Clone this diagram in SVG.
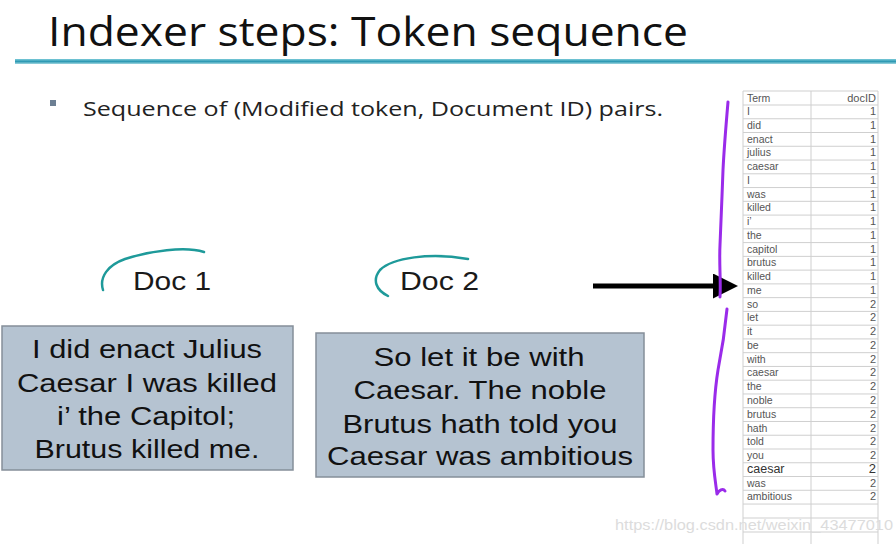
<svg xmlns="http://www.w3.org/2000/svg" width="896" height="544" viewBox="0 0 896 544">
<defs>
<style>
.title{font-family:"Open Sans","Liberation Sans",sans-serif;font-size:40px;fill:#111}
.bullet{font-family:"Open Sans","Liberation Sans",sans-serif;font-size:20px;fill:#222}
.doc{font-family:"Liberation Sans",Arial,sans-serif;font-size:26px;fill:#1a1a1a}
.box{fill:#b5c3d1;stroke:#858f99;stroke-width:1.5}
.bt{font-family:"Liberation Sans",Arial,sans-serif;font-size:26px;fill:#111;text-anchor:middle}
.tl{stroke:#cfcfcf;stroke-width:1;fill:none}
.tt{font-family:"Liberation Sans",Arial,sans-serif;font-size:10.5px;fill:#555}
.td{font-family:"Liberation Sans",Arial,sans-serif;font-size:11px;fill:#555;text-anchor:end}
.teal{fill:none;stroke:#1e9a9a;stroke-width:2.5;stroke-linecap:round}
.purple{fill:none;stroke:#9a2bea;stroke-width:3;stroke-linecap:round;stroke-linejoin:round}
</style>
<linearGradient id="rule" x1="0" y1="0" x2="0" y2="1">
<stop offset="0" stop-color="#7ccbd9"/>
<stop offset="0.5" stop-color="#2f9ab4"/>
<stop offset="1" stop-color="#9fd6e0"/>
</linearGradient>
<marker id="ah" markerWidth="5" markerHeight="5" refX="1" refY="2.5" orient="auto" markerUnits="strokeWidth">
<path d="M0,0 L5,2.5 L0,5 Z" fill="#000"/>
</marker>
</defs>
<rect width="896" height="544" fill="#fff"/>

<g id="title">
<text class="title" x="48" y="46" textLength="640" lengthAdjust="spacingAndGlyphs">Indexer steps: Token sequence</text>
<rect x="15" y="59" width="881" height="5" fill="url(#rule)"/>
</g>

<g id="bullet">
<rect x="50" y="100" width="6" height="6" fill="#6c7f93"/>
<text class="bullet" x="83" y="116" textLength="580" lengthAdjust="spacingAndGlyphs">Sequence of (Modified token, Document ID) pairs.</text>
</g>

<g id="doc1">
<path class="teal" d="M103,290 C99,277 108,265 125,259 C150,251 185,246 204,252"/>
<text class="doc" x="133" y="290" textLength="78" lengthAdjust="spacingAndGlyphs">Doc 1</text>
<rect class="box" x="2" y="326" width="291" height="144"/>
<text class="bt" x="147" y="358" textLength="230" lengthAdjust="spacingAndGlyphs">I did enact Julius</text>
<text class="bt" x="147" y="392" textLength="260" lengthAdjust="spacingAndGlyphs">Caesar I was killed</text>
<text class="bt" x="146" y="425" textLength="178" lengthAdjust="spacingAndGlyphs">i’ the Capitol;</text>
<text class="bt" x="147" y="458" textLength="225" lengthAdjust="spacingAndGlyphs">Brutus killed me.</text>
</g>

<g id="doc2">
<path class="teal" d="M388,296 C376,290 372,280 380,270 C392,258 430,252 468,259"/>
<text class="doc" x="400" y="290" textLength="79" lengthAdjust="spacingAndGlyphs">Doc 2</text>
<rect class="box" x="316" y="333" width="328" height="144"/>
<text class="bt" x="479" y="366" textLength="211" lengthAdjust="spacingAndGlyphs">So let it be with</text>
<text class="bt" x="480" y="399" textLength="253" lengthAdjust="spacingAndGlyphs">Caesar. The noble</text>
<text class="bt" x="480" y="433" textLength="275" lengthAdjust="spacingAndGlyphs">Brutus hath told you</text>
<text class="bt" x="480" y="465" textLength="306" lengthAdjust="spacingAndGlyphs">Caesar was ambitious</text>
</g>

<g id="connectors">
<line x1="593" y1="286" x2="718" y2="286" stroke="#000" stroke-width="5" marker-end="url(#ah)"/>
<path class="purple" d="M728,102 C726,125 724,150 723,170 C722,195 721,225 720,245 C719,265 721,280 720,297"/>
<path class="purple" d="M727,309 C725,330 722,350 718,370 C714,395 713,425 713,450 C713,470 716,485 717,494 C719,490 723,488 725,491"/>
</g>

<g id="table">
<rect x="743" y="91" width="135" height="453" fill="#fff"/>
<path class="tl" d="M743,91 V544 M811,91 V544 M878,91 V544 M743,91 H878"/>
<path class="tl" d="M743,105 H878 M743,118.76 H878 M743,132.52 H878 M743,146.28 H878 M743,160.04 H878 M743,173.8 H878 M743,187.56 H878 M743,201.32 H878 M743,215.08 H878 M743,228.84 H878 M743,242.6 H878 M743,256.36 H878 M743,270.12 H878 M743,283.88 H878 M743,297.64 H878 M743,311.4 H878 M743,325.16 H878 M743,338.92 H878 M743,352.68 H878 M743,366.44 H878 M743,380.2 H878 M743,393.96 H878 M743,407.72 H878 M743,421.48 H878 M743,435.24 H878 M743,449 H878 M743,462.76 H878 M743,476.52 H878 M743,490.28 H878 M743,504.04 H878 M743,518 H878 M743,532 H878"/>
<text class="tt" x="747" y="102">Term</text><text class="td" x="876" y="102">docID</text>
<text class="tt" x="747" y="115">I</text><text class="td" x="876" y="115">1</text>
<text class="tt" x="747" y="128.8">did</text><text class="td" x="876" y="128.8">1</text>
<text class="tt" x="747" y="142.5">enact</text><text class="td" x="876" y="142.5">1</text>
<text class="tt" x="747" y="156.3">julius</text><text class="td" x="876" y="156.3">1</text>
<text class="tt" x="747" y="170">caesar</text><text class="td" x="876" y="170">1</text>
<text class="tt" x="747" y="183.8">I</text><text class="td" x="876" y="183.8">1</text>
<text class="tt" x="747" y="197.6">was</text><text class="td" x="876" y="197.6">1</text>
<text class="tt" x="747" y="211.3">killed</text><text class="td" x="876" y="211.3">1</text>
<text class="tt" x="747" y="225.1">i’</text><text class="td" x="876" y="225.1">1</text>
<text class="tt" x="747" y="238.8">the</text><text class="td" x="876" y="238.8">1</text>
<text class="tt" x="747" y="252.6">capitol</text><text class="td" x="876" y="252.6">1</text>
<text class="tt" x="747" y="266.4">brutus</text><text class="td" x="876" y="266.4">1</text>
<text class="tt" x="747" y="280.1">killed</text><text class="td" x="876" y="280.1">1</text>
<text class="tt" x="747" y="293.9">me</text><text class="td" x="876" y="293.9">1</text>
<text class="tt" x="747" y="307.6">so</text><text class="td" x="876" y="307.6">2</text>
<text class="tt" x="747" y="321.4">let</text><text class="td" x="876" y="321.4">2</text>
<text class="tt" x="747" y="335.2">it</text><text class="td" x="876" y="335.2">2</text>
<text class="tt" x="747" y="348.9">be</text><text class="td" x="876" y="348.9">2</text>
<text class="tt" x="747" y="362.7">with</text><text class="td" x="876" y="362.7">2</text>
<text class="tt" x="747" y="376.4">caesar</text><text class="td" x="876" y="376.4">2</text>
<text class="tt" x="747" y="390.2">the</text><text class="td" x="876" y="390.2">2</text>
<text class="tt" x="747" y="404">noble</text><text class="td" x="876" y="404">2</text>
<text class="tt" x="747" y="417.7">brutus</text><text class="td" x="876" y="417.7">2</text>
<text class="tt" x="747" y="431.5">hath</text><text class="td" x="876" y="431.5">2</text>
<text class="tt" x="747" y="445.2">told</text><text class="td" x="876" y="445.2">2</text>
<text class="tt" x="747" y="459">you</text><text class="td" x="876" y="459">2</text>
<text class="tt" x="747" y="473" style="font-size:12.5px;fill:#333">caesar</text><text class="td" x="876" y="473" style="font-size:13px;fill:#333">2</text>
<text class="tt" x="747" y="486.5">was</text><text class="td" x="876" y="486.5">2</text>
<text class="tt" x="747" y="500.3">ambitious</text><text class="td" x="876" y="500.3">2</text>
</g>

<text x="615" y="530" font-family="Liberation Sans,Arial,sans-serif" font-size="15" fill="#dcdcdc" textLength="278" lengthAdjust="spacingAndGlyphs">https://blog.csdn.net/weixin_43477010</text>
</svg>
